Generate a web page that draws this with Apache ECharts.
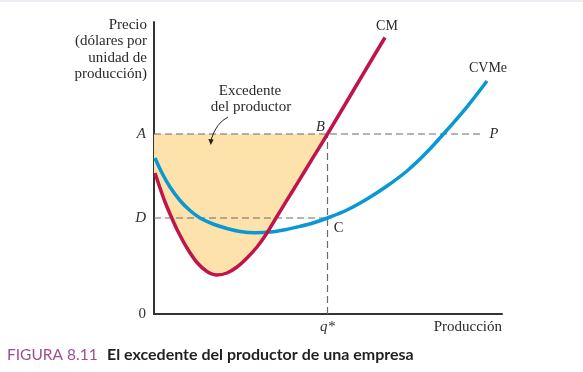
<!DOCTYPE html>
<html><head><meta charset="utf-8">
<style>html,body{margin:0;padding:0;background:#fff}#c{width:583px;height:372px}</style>
<script src="https://cdn.jsdelivr.net/npm/echarts@6/dist/echarts.min.js"></script>
</head><body><div id="c"></div>
<script>
// Curves (x: output, y: price, arbitrary units)
const cmCurve = [[1,141],[6,126],[11,112],[18,95.5],[24,82.5],[33,66],[43,51.5],[53,42.5],[63,39],[73,41],[83,47],[93,56],[103,67],[113,81],[122,96],[132,112.3],[143,130.2],[159,156.3],[173.5,180],[186,201],[197,219.5],[213,246.5],[231,276.5]];
const cvmeCurve = [[1,156],[8,141],[16,127],[26,113.5],[36,103.5],[46,96],[59,90],[73,85.5],[86,82.5],[101,81.3],[116,82],[131,84.3],[146,87.6],[159,91],[173.5,96],[193,104],[213,115],[233,128],[253,143],[273,162],[293,184],[313,207.2],[333,233]];
const priceA = 180;
const levelD = 96;
const qStar = 173.5;
const priceLineEnd = 328;
const yTickValues = [0, 96, 180];
const yTickLabels = ['0', 'D', 'A'];
const xTickValues = [173.5];
const xTickLabels = ['q*'];

const SERIF = '"Liberation Serif", "DejaVu Serif", serif';
const RED = '#c0154b';
const BLUE = '#0a98d4';
const DASH = '#6b6b6b';

const chart = echarts.init(document.getElementById('c'), null, {renderer: 'canvas'});

const labelRich = {
  it: {fontFamily: SERIF, fontStyle: 'italic', fontSize: 15, color: '#333'},
  up: {fontFamily: SERIF, fontSize: 15, color: '#333'}
};

chart.setOption({
  animation: false,
  backgroundColor: '#fff',
  grid: {left: 154, right: 81, top: 22, bottom: 58},
  xAxis: {
    type: 'value', min: 0, max: 348,
    splitLine: {show: false},
    axisLine: {show: true, onZero: false, lineStyle: {color: '#333', width: 2}},
    axisTick: {show: false},
    axisLabel: {
      customValues: xTickValues, margin: 6,
      formatter: v => '{it|' + xTickLabels[xTickValues.indexOf(v)] + '}',
      rich: labelRich
    }
  },
  yAxis: {
    type: 'value', min: 0, max: 292,
    splitLine: {show: false},
    axisLine: {show: true, onZero: false, lineStyle: {color: '#333', width: 2}},
    axisTick: {show: false},
    axisLabel: {
      customValues: yTickValues, margin: 8,
      formatter: v => { const t = yTickLabels[yTickValues.indexOf(v)]; return (t === '0' ? '{up|' : '{it|') + t + '}'; },
      rich: labelRich
    }
  },
  series: [
    {
      type: 'custom', z: 1, silent: true, data: [[0, 0]],
      renderItem: (params, api) => {
        const pts = [[0, priceA], [qStar, priceA]];
        cmCurve.filter(p => p[0] < qStar).reverse().forEach(p => pts.push(p));
        pts.push([0, cmCurve[0][1]]);
        return {type: 'polygon', shape: {points: pts.map(p => api.coord(p))}, style: {fill: '#fde2ab'}};
      }
    },
    {type: 'line', z: 3, silent: true, showSymbol: false, data: [[0, priceA], [priceLineEnd, priceA]],
      lineStyle: {color: DASH, width: 1.2, type: [7, 4]}},
    {type: 'line', z: 3, silent: true, showSymbol: false, data: [[0, levelD], [qStar, levelD]],
      lineStyle: {color: DASH, width: 1.2, type: [7, 4]}},
    {type: 'line', z: 3, silent: true, showSymbol: false, data: [[qStar, 0], [qStar, priceA]],
      lineStyle: {color: DASH, width: 1.2, type: [7, 4]}},
    {name: 'CVMe', type: 'line', z: 4, smooth: 0.35, showSymbol: false, data: cvmeCurve,
      lineStyle: {color: BLUE, width: 3.5}},
    {name: 'CM', type: 'line', z: 5, smooth: 0.35, showSymbol: false, data: cmCurve,
      lineStyle: {color: RED, width: 3.5}}
  ]
});

const px = p => chart.convertToPixel({gridIndex: 0}, p);
const B = px([qStar, priceA]);
const C = px([qStar, levelD]);
const Pend = px([priceLineEnd, priceA]);
const cmEnd = px(cmCurve[cmCurve.length - 1]);
const cvEnd = px(cvmeCurve[cvmeCurve.length - 1]);
const origin = px([0, 0]);
const xEnd = px([348, 0]);

function txt(x, y, text, opts) {
  return {type: 'text', x: x, y: y, silent: true, style: Object.assign({
    text: text, fontFamily: SERIF, fontSize: 15, fill: '#2a2a2a', align: 'center', verticalAlign: 'middle'
  }, opts || {})};
}

chart.setOption({
  graphic: [
    {type: 'rect', shape: {x: 0, y: 0, width: 583, height: 2}, style: {fill: '#eceef3'}, silent: true},
    txt(origin[0] - 7, 25, 'Precio', {align: 'right'}),
    txt(origin[0] - 7, 41.5, '(dólares por', {align: 'right'}),
    txt(origin[0] - 7, 58, 'unidad de', {align: 'right'}),
    txt(origin[0] - 7, 74.5, 'producción)', {align: 'right'}),
    txt(250, 91, 'Excedente'),
    txt(251, 107.5, 'del productor'),
    {type: 'bezierCurve', silent: true, z: 10,
      shape: {x1: 228, y1: 117, cpx1: 216, cpy1: 123, x2: 211, y2: 140},
      style: {stroke: '#222', lineWidth: 1, fill: null}},
    {type: 'polygon', silent: true, z: 10, shape: {points: [[208.3, 139], [213.7, 139.5], [210.8, 145]]}, style: {fill: '#222'}},
    txt(B[0] - 7, B[1] - 7, 'B', {fontStyle: 'italic', fontSize: 14.5}),
    txt(C[0] + 11, C[1] + 10, 'C', {fontSize: 14.5}),
    txt(Pend[0] + 12, Pend[1], 'P', {fontStyle: 'italic', fontSize: 14.5}),
    txt(cmEnd[0] + 2, cmEnd[1] - 11, 'CM', {fontSize: 14}),
    txt(cvEnd[0] + 1, cvEnd[1] - 13, 'CVMe', {fontSize: 14}),
    txt(xEnd[0], origin[1] + 13, 'Producción', {align: 'right'}),
    {type: 'text', x: 7, y: 355, silent: true, style: {
      text: 'FIGURA 8.11', verticalAlign: 'middle',
      fontFamily: 'Lato, "Open Sans", sans-serif', fontSize: 15.5, fill: '#9e4f8d'}},
    {type: 'text', x: 107, y: 355, silent: true, style: {
      text: 'El excedente del productor de una empresa', verticalAlign: 'middle',
      fontFamily: 'Lato, "Open Sans", sans-serif', fontSize: 16, fontWeight: 'bold', fill: '#231f20'}}
  ]
});
</script>
</body></html>
